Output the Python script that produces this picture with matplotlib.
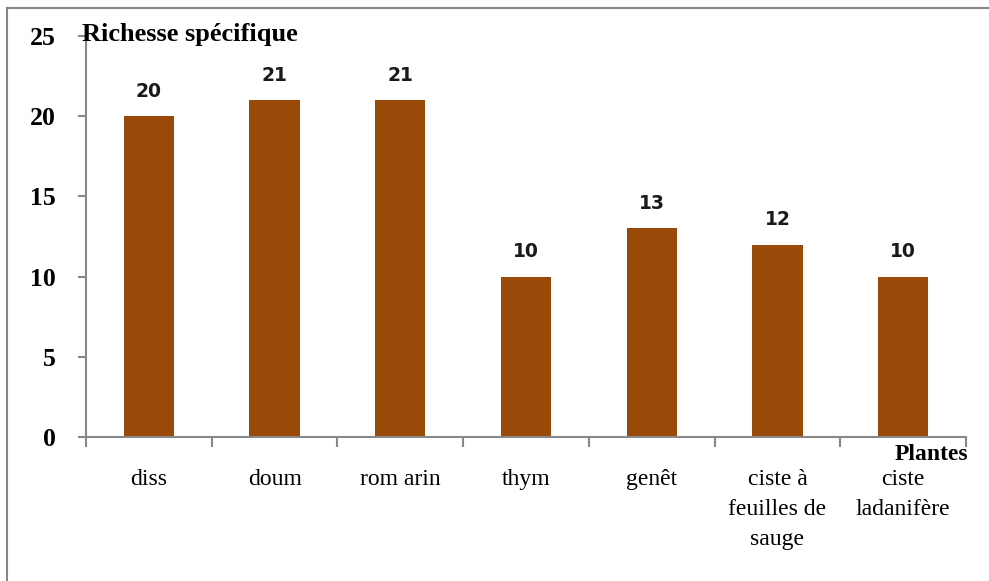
import matplotlib.pyplot as plt
from matplotlib.lines import Line2D
import numpy as np

plantes = ['diss', 'doum', 'rom arin', 'thym', 'genêt',
           'ciste à\nfeuilles de\nsauge', 'ciste\nladanifère']
richesse = [20, 21, 21, 10, 13, 12, 10]
yticks = [0, 5, 10, 15, 20, 25]

W, H = 989, 581
fig = plt.figure(figsize=(W / 100, H / 100), dpi=100)
ax = fig.add_axes([86 / W, 1 - 437 / H, (966 - 86) / W, (437 - 36) / H])

x = np.arange(len(plantes))
ax.bar(x, richesse, width=0.4, color='#994A08', zorder=2)

for xi, v in zip(x, richesse):
    ax.annotate(str(v), (xi, v), xytext=(0, 18), textcoords='offset points',
                ha='center', va='center', fontsize=13.5, color='#1a1a1a',
                family='DejaVu Sans', fontweight='bold')

ax.set_xlim(-0.5, len(plantes) - 0.5)
ax.set_ylim(0, 25)

# axes style
for s in ['top', 'right']:
    ax.spines[s].set_visible(False)
for s in ['left', 'bottom']:
    ax.spines[s].set_color('#888888')
    ax.spines[s].set_linewidth(1.5)

ax.set_yticks(yticks)
ax.set_yticklabels([str(t) for t in yticks], family='Liberation Serif',
                   fontweight='bold', fontsize=18.5)
ax.tick_params(axis='y', direction='out', length=6, width=1.5,
               color='#888888', pad=16)

ax.set_xticks(x)
ax.set_xticklabels(plantes, family='Liberation Serif', fontsize=17,
                   linespacing=1.55, va='top')
ax.tick_params(axis='x', which='major', length=0, pad=23)
ax.set_xticks(np.arange(-0.5, len(plantes)), minor=True)
ax.tick_params(axis='x', which='minor', direction='out', length=7,
               width=1.5, color='#888888')

fig.text(82 / W, 1 - 34 / H, 'Richesse spécifique', family='Liberation Serif',
         fontweight='bold', fontsize=19, ha='left', va='center')
fig.text(968 / W, 1 - 455 / H, 'Plantes', family='Liberation Serif',
         fontweight='bold', fontsize=17, ha='right', va='center')

# outer frame (top and left edges)
fig.add_artist(Line2D([7 / W, 1], [1 - 8 / H, 1 - 8 / H], color='#888888',
                      lw=1.5, transform=fig.transFigure))
fig.add_artist(Line2D([7 / W, 7 / W], [0, 1 - 8 / H], color='#888888',
                      lw=1.5, transform=fig.transFigure))

fig.savefig('out.png', dpi=100)
